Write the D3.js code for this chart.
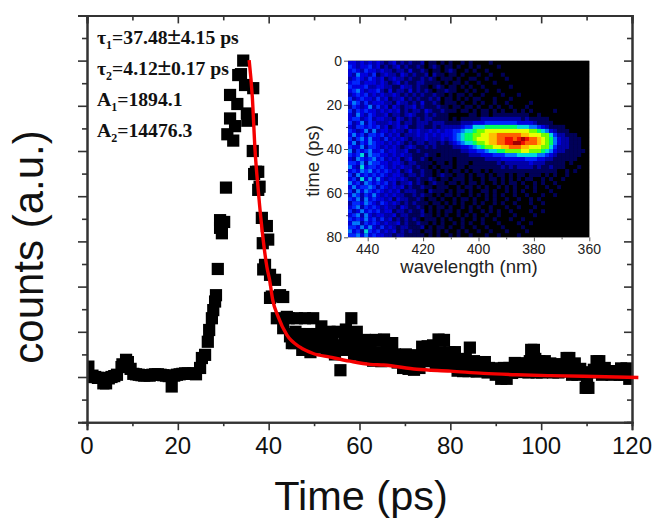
<!DOCTYPE html>
<html><head><meta charset="utf-8">
<script src="https://cdnjs.cloudflare.com/ajax/libs/d3/7.8.5/d3.min.js"></script>
<style>html,body{margin:0;padding:0;background:#fff}svg{display:block}</style>
</head><body><div id="chart"></div>
<script>
const times=[0.3,0.9,1.2,1.8,2.4,3,3.6,4.2,4.8,5.4,6,6.6,7.6,7.8,8.6,9,9.6,10.2,10.8,11.4,12,12.6,13.2,13.8,14.4,15,15.6,16.2,16.8,17.4,18,18.65,19.2,19.8,20.4,21,21.6,22.2,22.8,23.4,24,24.9,25.3,26,26.6,26.9,27.5,27.8,28.2,28.4,28.8,29.3,29.3,29.7,30.2,30.6,30.9,31.5,31.5,32.2,32.6,33.1,33.3,33.9,34.4,34.8,35.2,35.3,36.3,36.6,36.5,36.8,37.2,37.7,37.7,38,38.5,38.7,38.8,39.2,39.6,39.9,40.3,40.3,40.7,41.4,41.8,42.5,43.2,43.2,44,44.4,45,45.1,45.6,46.2,46.8,47.4,48,48.6,49.2,49.8,50.4,51,51.6,52.2,52.8,53.4,54,54.6,55.2,55.8,56.4,57,57.6,58.2,58.8,59.4,60,60.6,61.2,61.8,62.4,63,63.6,64.2,64.8,65.4,66,66.6,67.2,67.8,68.4,69,69.6,70.2,70.8,71.4,72,72.6,73.2,73.8,74.4,75,75.6,76.2,76.8,77.4,78,78.6,79.2,79.8,80.4,81,81.6,82.2,82.8,83.4,84,84.3,85.2,85.8,86.4,87,87.6,88.2,88.8,89.4,90,90.6,91.2,91.8,92.4,93,93.6,94.2,94.8,95.4,96,96.6,97.2,97.8,98.4,99,99.6,100.2,100.8,101.4,102,102.6,103.2,103.8,104.4,105,105.6,106.2,106.8,107.4,108,108.6,109.2,109.8,110.4,111,111.6,112.2,112.8,113.4,114,114.6,115.2,115.8,116.4,117,117.6,118.2,118.8,119.4,120];
const counts=[0.23,0,0.03,0,-0.02,-0.02,-0.14,-0.14,-0.03,0,0.02,0.05,0.22,0.28,0.38,0.33,0.18,0.07,0.06,0.05,0.04,0.03,0.04,0.03,0.05,0.06,0.06,0.05,0.04,0.03,0.02,-0.21,0.03,0.05,0.06,0.07,0.08,0.08,0.07,0.08,0.06,0.2,0.42,0.49,0.78,1.04,1.3,1.48,1.67,1.81,2.39,3.3,3.47,3.18,3.43,4.19,5.37,5.72,6.24,5.23,5.55,6.04,6.68,6.7,7,6.46,5.83,5.67,5.7,6.39,5,4.49,4.54,4.54,4.14,4.21,3.52,2.96,2.38,2.48,3.34,3.04,2.26,1.75,1.78,2.15,1.3,1.81,1.77,1.08,1.33,1.3,0.95,0.75,0.75,1.3,0.95,0.6,1.3,0.95,0.55,1.3,0.9,0.65,1.12,0.9,0.6,1,0.75,0.5,1,0.15,0.6,1.05,0.75,1.3,0.5,1,0.7,0.45,0.82,0.5,0.65,0.36,0.82,0.55,0.35,0.83,0.6,0.4,0.75,0.5,0.32,0.45,0.2,0.5,0.18,0.48,0.16,0.47,0.2,0.67,0.35,0.68,0.45,0.7,0.25,0.83,0.4,0.82,0.27,0.55,0.3,0.55,0.14,0.35,0.13,0.4,0.13,0.65,0.35,0.12,0.33,0.14,0.33,0.1,0.12,0.18,0.05,0.19,-0.04,0.2,-0.04,0.2,0.09,0.31,0.12,0.3,0.11,0.3,0.1,0.6,0.6,0.1,0.35,0.1,0.35,0.12,0.3,0.1,0.28,0.1,0.28,0.12,0.42,0.42,0.05,0.3,0.05,0.18,0.1,-0.24,-0.24,0.1,0.16,0.35,0.35,0.05,0.2,0.1,0.13,0.08,0.13,0.1,0.19,0.05,0.19,-0.04,0.1];
const extraTimes=[44.7,45.9,47.1,48.3,49.5,50.7,51.9,53.1,54.3,55.5,56.7,57.9,59.1,59.7,61.5,62.7,63.9,65.1,66.3,67.5,68.7,70.5,71.7,72.9,74.1,75.3,76.5,77.7,78.9,80.1,81.3,82.5,83.7,85.5,86.7,88.5,90.3,93.3,95.1,96.3,97.5,98.7,100.5,102.3,104.1,105.3,106.5,107.7,110.1,112.5,115.5,117.3,118.5,119.7];
const extraCounts=[0.9,1,0.85,0.8,0.75,0.95,0.7,0.8,0.7,0.65,0.85,0.9,0.8,0.5,0.55,0.5,0.5,0.5,0.55,0.45,0.35,0.35,0.35,0.35,0.5,0.45,0.45,0.55,0.45,0.4,0.3,0.25,0.25,0.22,0.22,0.2,0.12,0.15,0.2,0.2,0.35,0.4,0.22,0.2,0.18,0.25,0.25,0.15,0,0.2,0.05,0.05,0.1,0.05];
const fitTimes=[35.7,36.4,37,37.7,38.8,39.6,40.2,40.9,42.1,44,46.9,49.8,53.5,57.9,62.3,65.3,72.6,80,87.3,94.6,102,109.3,116.6,121.4];
const fitCounts=[7.01,6.2,5.02,4.14,3.03,2.44,2.15,1.7,1.33,0.93,0.66,0.52,0.44,0.35,0.28,0.265,0.17,0.13,0.08,0.05,0.03,0.015,0,-0.01];
const xTicksMajor=[0,20,40,60,80,100,120];
const xTicksMinor=[10,30,50,70,90,110];
const yTicksMajor=[-1,0,1,2,3,4,5,6,7,8];
const yTicksMinor=[-0.5,0.5,1.5,2.5,3.5,4.5,5.5,6.5,7.5];
const insetXMajor=[440,420,400,380,360];
const insetXMinor=[430,410,390,370];
const insetYMajor=[0,20,40,60,80];
const insetYMinor=[10,30,50,70];
const annotations=[["τ","1","=37.48","4.15 ps"],["τ","2","=4.12","0.17 ps"],["A","1","=1894.1",""],["A","2","=14476.3",""]];
const heatRows=[
"332323232123121211201101010010100001000000000000000000000000",
"432334231212312112101210110100101000010000000000000000000000",
"343243323221221311210110121001010010000000000000000000000000",
"325332412322132121120211011010001001001000000000000000000000",
"234324323123221211212101110100110010000100000000000000000000",
"344233323212312112211110101101001000100000000000000000000000",
"433342233221132212110121011010100100000010000000000000000000",
"345323342131221312121011211001010010010000000000000000000000",
"234342323223212121211211010110100100001000100000000000000000",
"423433242312231212112120110101011000100010000000000000000000",
"354242333221322121311210111010010100100100000100000000000000",
"243235242313212231211121101101101001010010001000000000000000",
"424343323232312122132112111011010110101001010100000100000000",
"3253243223122123"+"211212111"+"0000011011011111111100100000"+"0000000",
"3442342332213212"+"121221111"+"0101111122222222221211111000"+"0000000",
"4235243222323122"+"122212221"+"1112223334444444433332111100"+"0000000",
"3244343423123231"+"122112122"+"2223446667777777766655432111"+"1000000",
"4323525233232213"+"232232323"+"3445667889999999999988765321"+"1100000",
"3534244342323122"+"232323233"+"3456778899aabbbbbbaa99988642"+"2111000",
"4245353324232321"+"222322232"+"3456778999aabbccbcdcbba98753"+"2211100",
"3524354332323212"+"122122121"+"2345667889aabbccddcbbba98753"+"2211100",
"4335244323232123"+"211212111"+"1223345678899aabbbaa99988642"+"2211100",
"5243453342332231"+"121111111"+"1112233445667788889988876532"+"2111110",
"4346254433232322"+"111211011"+"1111122233344455566666554321"+"1111100",
"3254345342323123"+"112101111"+"1011111112222333333444332211"+"1111000",
"4435254433233212"+"211110110"+"1011101111112122222232221111"+"1010000",
"5326344343232322"+"121101011"+"1011011111111212122221211211"+"1000100",
"3435453434323123"+"112110101"+"0110101101011111111111111110"+"0101000",
"425343434323321221211012110110101101011010110111010100100000",
"342635353233232112112101101110100101101010101100101001000000",
"534254343423122312101211011010110100101011010010100100000000",
"353445424323231211211011100101101010010101001010010010000000",
"425354343232312221102111010110100110100101010010001000000000",
"354243532323221121211010110100101010101001001000100100000000",
"435253433231322112101101001011010010100100100101000000000000",
"244354324323212121110110101010010100101001000100100000000000",
"345243432322132112101011010010101001000100100010000000000000",
"423534342331221211201010110100100101010010000100100000000000",
"345253233223122111211010100101010010010001000010000000000000",
"434353424231212121011101010010010100100010010000000000000000",
"355243432322312112110101001010100100010000100100000000000000",
"443535324232122111201011010010010010001000010000000000000000",
"534264342323121211011010100101001001000100001000000000000000",
"445353433221221111101010010100100010010000100000000000000000"
];
const heatColors=["#000000","#000058","#0000a8","#0000e0","#0028ff","#0078ff","#00d8dc","#00ff60","#70ff00","#e8ff00","#ffc000","#ff6000","#f01000","#a00000","#300000"];

const W=654,H=519;
const svg=d3.select("#chart").append("svg").attr("width",W).attr("height",H);
const x=d3.scaleLinear().domain([0,120]).range([87,632]);
const y=d3.scaleLinear().domain([-1,8]).range([422.2,15.4]);
const axisColor="#333";
const defs=svg.append("defs");
defs.append("clipPath").attr("id","plot").append("rect").attr("x",x(0)).attr("y",y(8)).attr("width",x(120)-x(0)).attr("height",y(-1)-y(8));
defs.append("filter").attr("id","soft").attr("x","-2%").attr("y","-2%").attr("width","104%").attr("height","104%").append("feGaussianBlur").attr("stdDeviation",0.75);

// main marks
const size=12.2;
const marks=svg.append("g").attr("clip-path","url(#plot)");
const drawMarks=(ts,cs)=>marks.append("g").selectAll("rect").data(ts).join("rect")
 .attr("x",d=>x(d)-size/2).attr("y",(d,i)=>y(cs[i])-size/2).attr("width",size).attr("height",size).attr("fill","#000");
drawMarks(times,counts);
drawMarks(extraTimes,extraCounts);

function ticks(axisFn,scale,major,minor,translate,dirLen,dirMinor){
  const g=svg.append("g").attr("transform",translate);
  g.call(axisFn(scale).tickValues(major).tickSize(dirLen).tickFormat(""));
  g.append("g").call(axisFn(scale).tickValues(minor).tickSize(dirMinor).tickFormat(""));
  g.selectAll("path").attr("stroke",axisColor).attr("stroke-width",2);
  g.selectAll("line").attr("stroke",axisColor).attr("stroke-width",1.6);
  return g;
}
ticks(d3.axisBottom,x,xTicksMajor,xTicksMinor,`translate(0,${y(-1)})`,8,4);
ticks(d3.axisTop,x,xTicksMajor,xTicksMinor,`translate(0,${y(8)})`,-8,-5);
ticks(d3.axisLeft,y,yTicksMajor,yTicksMinor,`translate(${x(0)},0)`,9,5);
ticks(d3.axisRight,y,yTicksMajor,yTicksMinor,`translate(${x(120)},0)`,-8,-5);

svg.append("g").selectAll("text").data(xTicksMajor).join("text")
 .attr("x",d=>x(d)).attr("y",454).attr("text-anchor","middle").attr("font-family","'Liberation Sans'").attr("font-size",24).attr("fill","#111").text(d=>d);
svg.append("text").attr("x",361).attr("y",509.5).attr("text-anchor","middle").attr("font-family","'Liberation Sans'").attr("font-size",41.5).attr("fill","#111").text("Time (ps)");
svg.append("text").attr("transform","translate(43,247) rotate(-90)").attr("text-anchor","middle").attr("font-family","'Liberation Sans'").attr("font-size",42).attr("fill","#111").text("counts (a.u.)");

// fit
svg.append("path").datum(fitTimes).attr("fill","none").attr("stroke","#f50000").attr("stroke-width",3.4)
 .attr("d",d3.line().x(d=>x(d)).y((d,i)=>y(fitCounts[i])).curve(d3.curveMonotoneX));

// annotation
const ann=svg.append("g").attr("font-family","'Liberation Serif'").attr("font-weight","bold").attr("font-size",19.7).attr("fill","#111");
const annY=d3.scalePoint().domain(d3.range(annotations.length)).range([44,137]);
annotations.forEach((a,i)=>{
  const t=ann.append("text").attr("x",97).attr("y",annY(i));
  t.append("tspan").text(a[0]);
  t.append("tspan").attr("font-size",12).attr("dy",5).text(a[1]);
  t.append("tspan").attr("dy",-5).text(a[2]);
  if(a[3]){
    t.append("tspan").attr("font-family","'Liberation Sans'").attr("font-weight","normal").attr("font-size",24).text("±");
    t.append("tspan").text(a[3]);
  }
});

// inset
const ix=d3.scaleLinear().domain([440,360]).range([367.7,589.3]);
const iy=d3.scaleLinear().domain([0,80]).range([60.7,237.3]);
const nCols=60,nRows=heatRows.length;
const colBand=d3.scaleBand().domain(d3.range(nCols)).range([ix(447.1),ix(360)]);
const rowBand=d3.scaleBand().domain(d3.range(nRows)).range([iy(0),iy(80)]);
const heatColor=d3.scaleOrdinal().domain("0123456789abcde".split("")).range(heatColors);
const heatCells=[];
heatRows.forEach((r,ri)=>{for(let c=0;c<nCols;c++)heatCells.push({r:ri,c,v:r[c]||"0"});});
svg.append("rect").attr("x",ix(447.1)).attr("y",iy(0)).attr("width",ix(360)-ix(447.1)).attr("height",iy(80)-iy(0)).attr("fill","#000");
defs.append("clipPath").attr("id","inset").append("rect").attr("x",ix(447.1)).attr("y",iy(0)).attr("width",ix(360)-ix(447.1)).attr("height",iy(80)-iy(0));
svg.append("g").attr("clip-path","url(#inset)").append("g").attr("filter","url(#soft)").selectAll("rect").data(heatCells).join("rect")
 .attr("x",d=>colBand(d.c)).attr("y",d=>rowBand(d.r)).attr("width",colBand.bandwidth()+0.3).attr("height",rowBand.bandwidth()+0.3).attr("fill",d=>heatColor(d.v));

function insetTicks(axisFn,scale,major,minor,translate){
  const g=svg.append("g").attr("transform",translate);
  g.call(axisFn(scale).tickValues(major).tickSize(4).tickFormat(""));
  g.append("g").call(axisFn(scale).tickValues(minor).tickSize(2).tickFormat(""));
  g.selectAll("path").attr("display","none");
  g.selectAll("line").attr("stroke","#555").attr("stroke-width",1);
}
insetTicks(d3.axisBottom,ix,insetXMajor,insetXMinor,`translate(0,${iy(80)})`);
insetTicks(d3.axisLeft,iy,insetYMajor,insetYMinor,`translate(${ix(447.1)},0)`);
const insetFont={family:"'Liberation Sans'",fill:"#222"};
svg.append("g").selectAll("text").data(insetXMajor).join("text").attr("x",d=>ix(d)).attr("y",254).attr("text-anchor","middle")
 .attr("font-family",insetFont.family).attr("font-size",14).attr("fill",insetFont.fill).text(d=>d);
svg.append("g").selectAll("text").data(insetYMajor).join("text").attr("x",342).attr("y",d=>iy(d)+5).attr("text-anchor","end")
 .attr("font-family",insetFont.family).attr("font-size",14).attr("fill",insetFont.fill).text(d=>d);
svg.append("text").attr("x",469).attr("y",273).attr("text-anchor","middle").attr("font-family",insetFont.family).attr("font-size",18.6).attr("fill",insetFont.fill).text("wavelength (nm)");
svg.append("text").attr("transform","translate(319,161) rotate(-90)").attr("text-anchor","middle").attr("font-family",insetFont.family).attr("font-size",18.4).attr("fill",insetFont.fill).text("time (ps)");
</script></body></html>
